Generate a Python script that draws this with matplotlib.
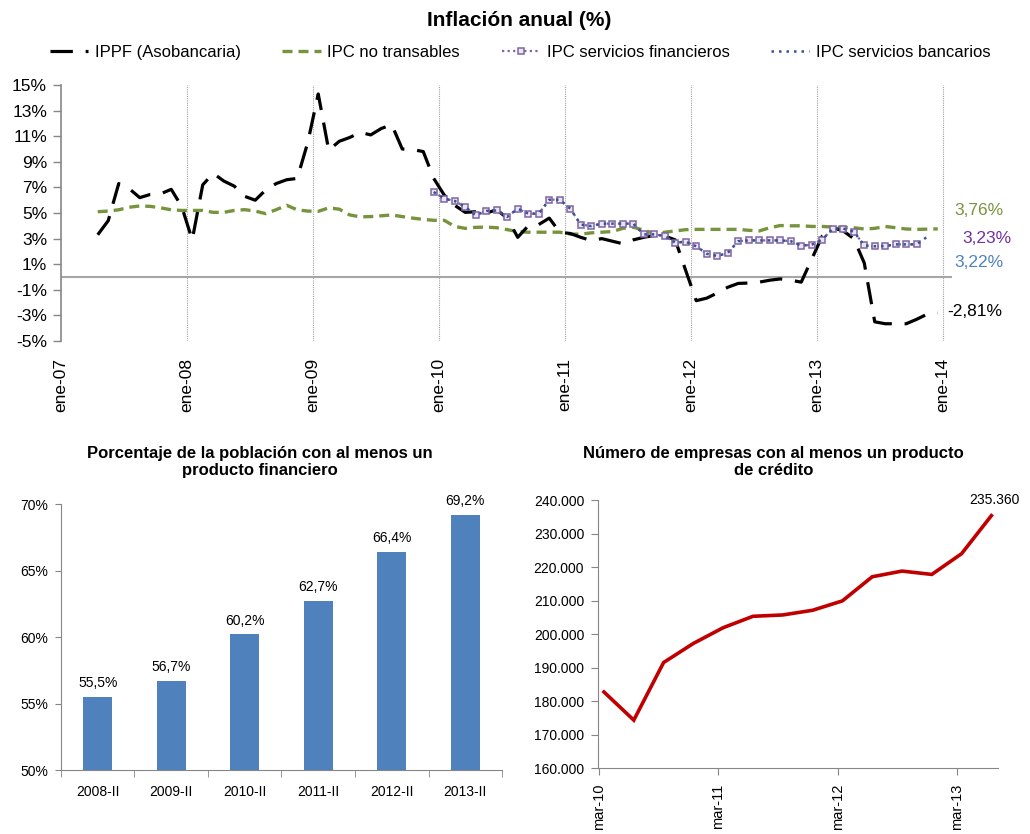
import matplotlib
matplotlib.use("Agg")
import matplotlib.pyplot as plt
from matplotlib.ticker import FuncFormatter
import numpy as np

plt.rcParams["font.family"] = ["Liberation Sans", "DejaVu Sans"]

# ---------------- datos ----------------
# inflacion anual mensual; mes 0 = ene-07
MES_INICIO = 3          # abr-07
ippf = [3.3, 4.4, 7.3, 6.9, 6.2, 6.45, 6.5, 6.85, 5.5, 2.9,
        7.2, 8.1, 7.5, 7.1, 6.3, 6.0, 6.8, 7.3, 7.6, 7.7,
        10.5, 14.3, 9.9, 10.6, 10.9, 11.3, 11.1, 11.6, 11.9, 10.0,
        9.95, 9.8, 7.7, 6.4, 5.6, 5.05, 5.1, 5.0, 5.25, 4.6,
        3.1, 4.0, 4.1, 4.6, 3.5, 3.4, 3.1, 2.85, 3.0, 2.8,
        2.6, 2.9, 3.1, 3.25, 3.2, 2.9, 0.5, -1.85, -1.65, -1.25,
        -0.8, -0.5, -0.47, -0.4, -0.25, -0.15, -0.25, -0.4, 1.4, 3.2,
        3.85, 3.6, 3.0, 1.1, -3.5, -3.65, -3.65, -3.65, -3.3, -2.9,
        -2.81]
ipc_no_transables = [5.1, 5.15, 5.25, 5.45, 5.55, 5.52, 5.4, 5.25, 5.2, 5.2,
                     5.2, 5.05, 5.05, 5.2, 5.26, 5.15, 4.95, 5.26, 5.6, 5.25,
                     5.15, 5.13, 5.4, 5.3, 4.85, 4.7, 4.72, 4.78, 4.85, 4.72,
                     4.6, 4.5, 4.43, 4.43, 3.95, 3.8, 3.88, 3.9, 3.85, 3.7,
                     3.55, 3.5, 3.5, 3.5, 3.5, 3.35, 3.35, 3.45, 3.5, 3.55,
                     3.8, 3.9, 3.65, 3.4, 3.5, 3.6, 3.7, 3.72, 3.72, 3.72,
                     3.72, 3.72, 3.65, 3.6, 3.85, 4.02, 4.0, 4.0, 3.95, 3.95,
                     3.9, 3.88, 3.85, 3.75, 3.8, 3.95, 3.85, 3.75, 3.72, 3.74,
                     3.76]
MES_INICIO_SERV = 35    # dic-09
ipc_serv_financieros = [6.64, 6.12, 5.94, 5.47, 4.82, 5.16, 5.2, 4.7, 5.34, 4.95,
                        4.95, 6.04, 6.04, 5.34, 4.1, 3.98, 4.17, 4.17, 4.17, 4.17,
                        3.33, 3.33, 3.2, 2.68, 2.76, 2.4, 1.82, 1.64, 1.88, 2.8,
                        2.86, 2.86, 2.86, 2.86, 2.8, 2.45, 2.52, 2.92, 3.78, 3.78,
                        3.55, 2.47, 2.4, 2.42, 2.55, 2.55, 2.55]
ipc_serv_bancarios = [6.64, 6.12, 5.94, 5.47, 4.82, 5.16, 5.2, 4.7, 5.34, 4.95,
                      4.95, 6.04, 6.04, 5.34, 4.1, 3.98, 4.17, 4.17, 4.17, 4.17,
                      3.33, 3.33, 3.2, 2.68, 2.76, 2.4, 1.82, 1.64, 1.88, 2.8,
                      2.86, 2.86, 2.86, 2.86, 2.8, 2.45, 2.52, 2.92, 3.78, 3.78,
                      3.55, 2.47, 2.4, 2.42, 2.55, 2.55, 2.55, 3.15]
etiquetas_anos = ["ene-07", "ene-08", "ene-09", "ene-10", "ene-11",
                  "ene-12", "ene-13", "ene-14"]
ultimos = ["3,76%", "3,23%", "3,22%", "-2,81%"]

# porcentaje de la poblacion con producto financiero
periodos = ["2008-II", "2009-II", "2010-II", "2011-II", "2012-II", "2013-II"]
poblacion = [55.5, 56.7, 60.2, 62.7, 66.4, 69.2]

# empresas con producto de credito (trimestral, mar-10 .. jun-13)
empresas = [182700, 174300, 191500, 197200, 201900, 205300, 205700,
            207100, 209900, 217100, 218800, 217800, 224000, 235360]
etiquetas_trim = ["mar-10", "mar-11", "mar-12", "mar-13"]

GRIS = "#868686"
VERDE = "#77933c"
MORADO = "#8064a2"
AZUL = "#2f5597"

fig = plt.figure(figsize=(10.30, 8.34), dpi=100)
fig.patch.set_facecolor("white")

# ---------------- grafico superior ----------------
ax = fig.add_axes([0.0592, 0.5911, 0.8651, 0.3070])
x_ippf = np.arange(len(ippf)) + MES_INICIO + 0.5
x_ipc = np.arange(len(ipc_no_transables)) + MES_INICIO + 0.5
x_fin = np.arange(len(ipc_serv_financieros)) + MES_INICIO_SERV + 0.5
x_ban = np.arange(len(ipc_serv_bancarios)) + MES_INICIO_SERV + 0.5

ax.axhline(0, color="#a6a6a6", lw=1.5, zorder=1)
l1, = ax.plot(x_ippf, ippf, color="black", lw=2.3, ls=(0, (7, 4)),
              label="IPPF (Asobancaria)", zorder=3)
l2, = ax.plot(x_ipc, ipc_no_transables, color=VERDE, lw=2.4, ls=(0, (3, 1.8)),
              label="IPC no transables", zorder=2)
l3, = ax.plot(x_fin, ipc_serv_financieros, color=MORADO, lw=1.6, ls=(0, (1, 1.5)),
              marker="s", ms=4.5, mfc="#ece6f3", mec=MORADO, mew=1.1,
              label="IPC servicios financieros", zorder=4)
l4, = ax.plot(x_ban, ipc_serv_bancarios, color=AZUL, lw=1.8, ls=(0, (1, 2)),
              label="IPC servicios bancarios", zorder=5)

ax.set_xlim(0, 84.86)
ax.set_ylim(-5, 15)
ax.set_yticks(range(-5, 16, 2))
ax.set_yticklabels([f"{v}%" for v in range(-5, 16, 2)], fontsize=12.5)
ax.set_xticks(range(0, 85, 12))
ax.set_xticklabels(etiquetas_anos, rotation=90, fontsize=12.5, va="top")
ax.tick_params(axis="x", length=0, pad=12)
ax.tick_params(axis="y", length=6, color=GRIS, width=1, pad=4)
for xv in range(12, 85, 12):
    ax.axvline(xv, color="#a0a0a0", lw=0.8, ls=(0, (1, 1)), zorder=0)
for s in ["top", "right", "bottom"]:
    ax.spines[s].set_visible(False)
ax.spines["left"].set_color(GRIS)
ax.spines["left"].set_linewidth(1.2)

ax.text(85.1, 5.2, ultimos[0], color=VERDE, fontsize=12.5, ha="left", va="center", clip_on=False)
ax.text(85.8, 3.0, ultimos[1], color="#7030a0", fontsize=12.5, ha="left", va="center", clip_on=False)
ax.text(85.1, 1.1, ultimos[2], color="#4f81bd", fontsize=12.5, ha="left", va="center", clip_on=False)
ax.text(84.4, -2.7, ultimos[3], color="black", fontsize=12.5, ha="left", va="center", clip_on=False)

fig.text(0.504, 0.976, "Inflación anual (%)", ha="center", va="center",
         fontsize=15, fontweight="bold")
fig.legend(handles=[l1, l2, l3, l4], loc="center", bbox_to_anchor=(0.505, 0.9376),
           ncol=4, frameon=False, fontsize=12, handlelength=2.3,
           columnspacing=2.5, handletextpad=0.4)

# ---------------- barras poblacion ----------------
ax2 = fig.add_axes([0.0592, 0.0767, 0.4282, 0.3189])
pos = np.arange(len(periodos))
barras = ax2.bar(pos, poblacion, width=0.4, color="#4f81bd", zorder=2)
for b, v in zip(barras, poblacion):
    ax2.text(b.get_x() + b.get_width() / 2, v + 0.5, f"{v:.1f}%".replace(".", ","),
             ha="center", va="bottom", fontsize=10)
ax2.set_xlim(-0.5, len(periodos) - 0.5)
ax2.set_ylim(50, 70)
ax2.set_yticks(range(50, 71, 5))
ax2.set_yticklabels([f"{v}%" for v in range(50, 71, 5)], fontsize=10)
ax2.set_xticks(pos)
ax2.set_xticklabels(periodos, fontsize=10)
ax2.set_xticks(np.arange(-0.5, len(periodos)), minor=True)
ax2.tick_params(axis="x", which="major", length=0, pad=11)
ax2.tick_params(axis="x", which="minor", length=5, color=GRIS)
ax2.tick_params(axis="y", length=4, color=GRIS, pad=5)
for s in ["top", "right"]:
    ax2.spines[s].set_visible(False)
for s in ["left", "bottom"]:
    ax2.spines[s].set_color(GRIS)
fig.text(0.2524, 0.446, "Porcentaje de la población con al menos un\nproducto financiero",
         ha="center", va="center", fontsize=12, fontweight="bold", linespacing=1.15)

# ---------------- linea empresas ----------------
ax3 = fig.add_axes([0.5806, 0.0791, 0.3883, 0.3213])
xq = np.arange(len(empresas))
ax3.plot(xq, empresas, color="#c00000", lw=2.6, solid_joinstyle="miter", zorder=3)
ax3.text(xq[-1] + 0.1, empresas[-1] + 2500, f"{empresas[-1]:,}".replace(",", "."),
         ha="center", va="bottom", fontsize=10)
ax3.set_xlim(-0.2, 13.22)
ax3.set_ylim(160000, 240000)
ax3.set_yticks(range(160000, 240001, 10000))
ax3.yaxis.set_major_formatter(FuncFormatter(lambda v, p: f"{int(v):,}".replace(",", ".")))
ax3.tick_params(axis="y", labelsize=10, length=5, color=GRIS, pad=5)
ax3.set_xticks(np.arange(0, 13, 4) - 0.16)
ax3.set_xticklabels(etiquetas_trim, rotation=90, fontsize=10.5, va="top")
ax3.tick_params(axis="x", length=5, color=GRIS, pad=6)
for s in ["top", "right"]:
    ax3.spines[s].set_visible(False)
for s in ["left", "bottom"]:
    ax3.spines[s].set_color(GRIS)
fig.text(0.751, 0.446, "Número de empresas con al menos un producto\nde crédito",
         ha="center", va="center", fontsize=12, fontweight="bold", linespacing=1.15)

fig.savefig("out.png", dpi=100, facecolor="white")
plt.close(fig)
